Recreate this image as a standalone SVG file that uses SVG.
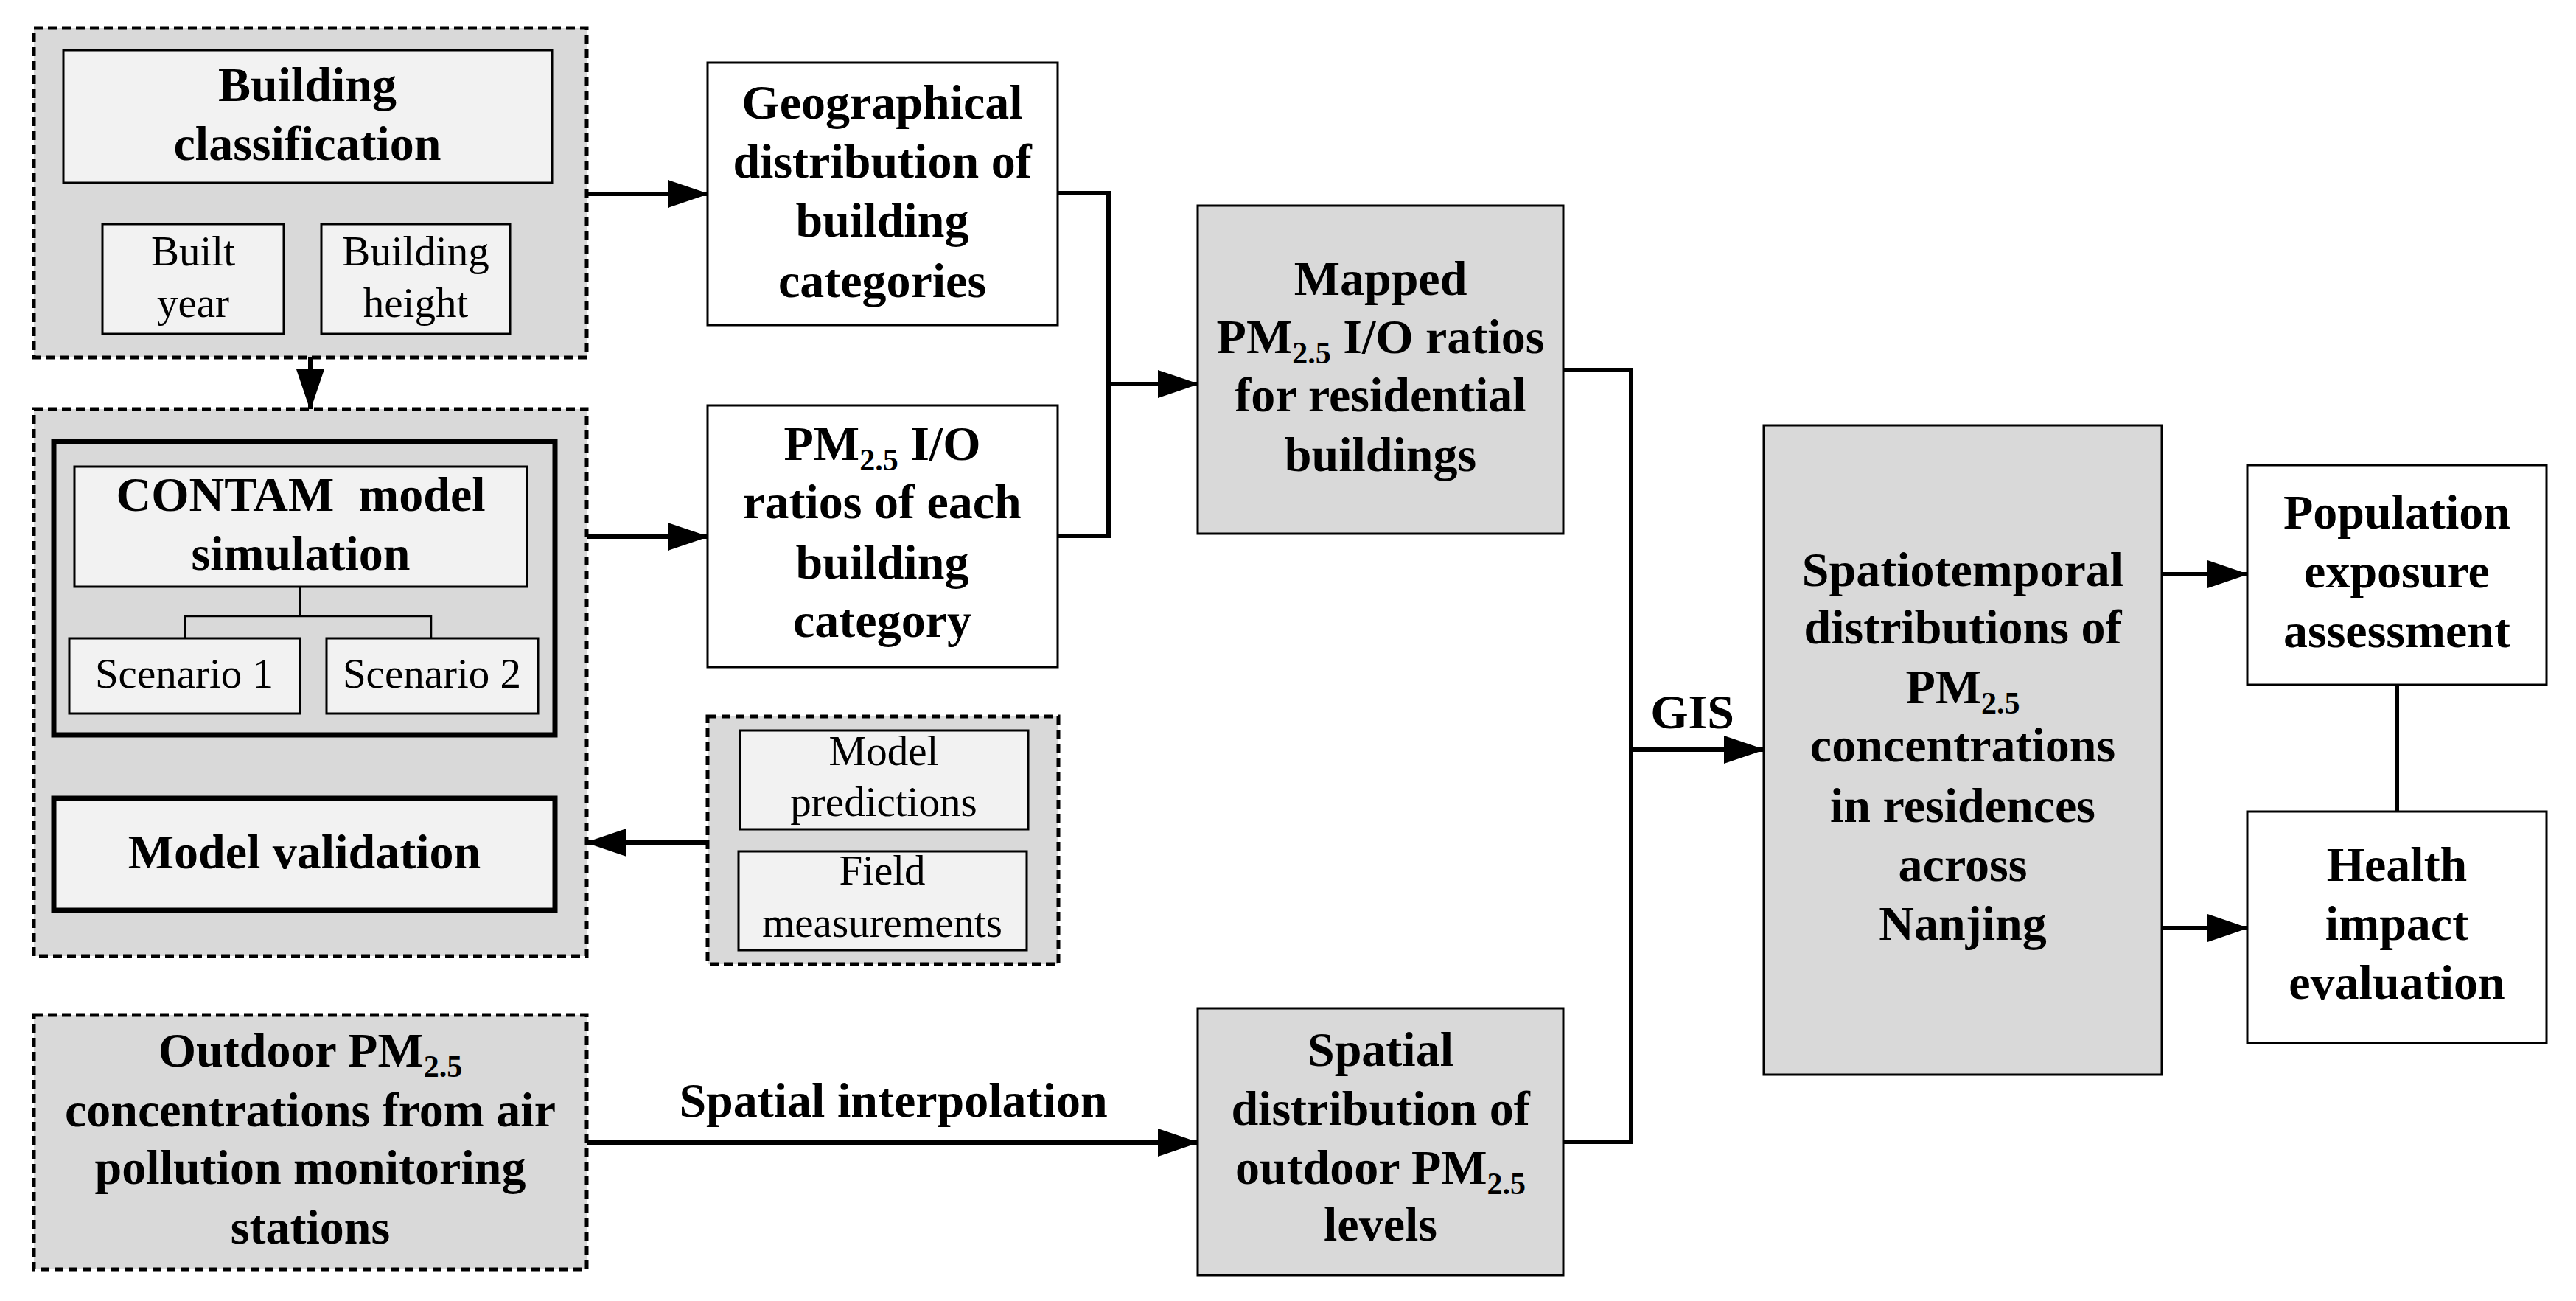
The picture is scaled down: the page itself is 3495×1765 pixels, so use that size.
<svg xmlns="http://www.w3.org/2000/svg" width="3495" height="1765" viewBox="0 0 3495 1765">
<style>
text{font-family:"Liberation Serif","Times New Roman",serif;fill:#000;text-anchor:middle}
.b{font-weight:bold;font-size:66px}
.r{font-size:57px}
.grp{fill:#d9d9d9;stroke:#000;stroke-width:5;stroke-dasharray:12 7}
.lt{fill:#f2f2f2;stroke:#000;stroke-width:3}
.thk{fill:#d9d9d9;stroke:#000;stroke-width:7}
.thkl{fill:#f2f2f2;stroke:#000;stroke-width:7}
.wh{fill:#fff;stroke:#000;stroke-width:3}
.gr{fill:#d9d9d9;stroke:#000;stroke-width:3}
.c{fill:none;stroke:#000;stroke-width:6}
.ca{fill:none;stroke:#000;stroke-width:6;marker-end:url(#ah)}
.tn{fill:none;stroke:#000;stroke-width:2.5}
.s{font-size:42px}
</style>
<defs>
<marker id="ah" markerUnits="userSpaceOnUse" markerWidth="56" markerHeight="38" refX="54" refY="19" orient="auto">
<path d="M0,0 L56,19 L0,38 Z" fill="#000"/>
</marker>
</defs>
<rect width="3495" height="1765" fill="#fff"/>

<g id="connectors">
<path class="ca" d="M796,263 H960"/>
<path class="ca" d="M796,728 H960"/>
<path class="ca" d="M421,485 V555"/>
<path class="ca" d="M413,1083 V997"/>
<path class="ca" d="M960,1143 H796"/>
<path class="ca" d="M796,1550 H1625"/>
<path class="c" d="M1435,262 H1504 V727 H1435"/>
<path class="ca" d="M1504,521 H1625"/>
<path class="c" d="M2121,502 H2213 V1549 H2121"/>
<path class="ca" d="M2213,1017 H2393"/>
<path class="ca" d="M2933,779 H3049"/>
<path class="ca" d="M2933,1259 H3049"/>
<path class="c" d="M3252,929 V1101"/>
<text class="b" x="1212" y="1515">Spatial interpolation</text>
<text class="b" x="2296" y="988">GIS</text>
</g>

<g id="building-group">
<rect class="grp" x="46" y="38" width="750" height="447"/>
<g id="building-classification">
<rect class="lt" x="86" y="68" width="663" height="180"/>
<text class="b" x="417" y="137">Building</text>
<text class="b" x="417" y="217">classification</text>
</g>
<g id="built-year">
<rect class="lt" x="139" y="304" width="246" height="149"/>
<text class="r" x="262" y="360">Built</text>
<text class="r" x="262" y="430">year</text>
</g>
<g id="building-height">
<rect class="lt" x="436" y="304" width="256" height="149"/>
<text class="r" x="564" y="360">Building</text>
<text class="r" x="564" y="430">height</text>
</g>
</g>

<g id="contam-group">
<rect class="grp" x="46" y="555" width="750" height="742"/>
<g id="contam-simulation">
<rect class="thk" x="73" y="599" width="680" height="398"/>
<rect class="lt" x="101" y="633" width="614" height="163"/>
<text class="b" x="408" y="693" xml:space="preserve">CONTAM  model</text>
<text class="b" x="408" y="773">simulation</text>
<path class="tn" d="M407,796 V836 M251,866 V836 H585 V866"/>
</g>
<g id="scenario-1">
<rect class="lt" x="94" y="866" width="313" height="102"/>
<text class="r" x="250" y="933">Scenario 1</text>
</g>
<g id="scenario-2">
<rect class="lt" x="443" y="866" width="287" height="102"/>
<text class="r" x="586" y="933">Scenario 2</text>
</g>
<g id="model-validation">
<rect class="thkl" x="73" y="1083" width="680" height="152"/>
<text class="b" x="413" y="1178">Model validation</text>
</g>
</g>

<g id="validation-data">
<rect class="grp" x="960" y="972" width="476" height="336"/>
<g id="model-predictions">
<rect class="lt" x="1004" y="991" width="391" height="134"/>
<text class="r" x="1199" y="1038">Model</text>
<text class="r" x="1199" y="1107">predictions</text>
</g>
<g id="field-measurements">
<rect class="lt" x="1002" y="1155" width="391" height="134"/>
<text class="r" x="1197" y="1200">Field</text>
<text class="r" x="1197" y="1271">measurements</text>
</g>
</g>

<g id="outdoor-pm">
<rect class="grp" x="46" y="1377" width="750" height="345"/>
<text class="b" x="421" y="1447">Outdoor PM<tspan class="s" dy="14">2.5</tspan></text>
<text class="b" x="421" y="1528">concentrations from air</text>
<text class="b" x="421" y="1606">pollution monitoring</text>
<text class="b" x="421" y="1687">stations</text>
</g>

<g id="geographical-distribution">
<rect class="wh" x="960" y="85" width="475" height="356"/>
<text class="b" x="1197" y="161">Geographical</text>
<text class="b" x="1197" y="241">distribution of</text>
<text class="b" x="1197" y="321">building</text>
<text class="b" x="1197" y="403">categories</text>
</g>

<g id="io-ratios">
<rect class="wh" x="960" y="550" width="475" height="355"/>
<text class="b" x="1197" y="624">PM<tspan class="s" dy="14">2.5</tspan><tspan dy="-14"> I/O</tspan></text>
<text class="b" x="1197" y="703">ratios of each</text>
<text class="b" x="1197" y="785">building</text>
<text class="b" x="1197" y="864">category</text>
</g>

<g id="mapped-ratios">
<rect class="gr" x="1625" y="279" width="496" height="445"/>
<text class="b" x="1873" y="400">Mapped</text>
<text class="b" x="1873" y="479">PM<tspan class="s" dy="14">2.5</tspan><tspan dy="-14"> I/O ratios</tspan></text>
<text class="b" x="1873" y="558">for residential</text>
<text class="b" x="1873" y="639">buildings</text>
</g>

<g id="spatial-distribution">
<rect class="gr" x="1625" y="1368" width="496" height="362"/>
<text class="b" x="1873" y="1446">Spatial</text>
<text class="b" x="1873" y="1526">distribution of</text>
<text class="b" x="1873" y="1606">outdoor PM<tspan class="s" dy="14">2.5</tspan></text>
<text class="b" x="1873" y="1683">levels</text>
</g>

<g id="spatiotemporal">
<rect class="gr" x="2393" y="577" width="540" height="881"/>
<text class="b" x="2663" y="795">Spatiotemporal</text>
<text class="b" x="2663" y="873">distributions of</text>
<text class="b" x="2663" y="954">PM<tspan class="s" dy="14">2.5</tspan></text>
<text class="b" x="2663" y="1033">concentrations</text>
<text class="b" x="2663" y="1115">in residences</text>
<text class="b" x="2663" y="1195">across</text>
<text class="b" x="2663" y="1275">Nanjing</text>
</g>

<g id="population-exposure">
<rect class="wh" x="3049" y="631" width="406" height="298"/>
<text class="b" x="3252" y="717">Population</text>
<text class="b" x="3252" y="797">exposure</text>
<text class="b" x="3252" y="878">assessment</text>
</g>

<g id="health-impact">
<rect class="wh" x="3049" y="1101" width="406" height="314"/>
<text class="b" x="3252" y="1195">Health</text>
<text class="b" x="3252" y="1275">impact</text>
<text class="b" x="3252" y="1355">evaluation</text>
</g>
</svg>
